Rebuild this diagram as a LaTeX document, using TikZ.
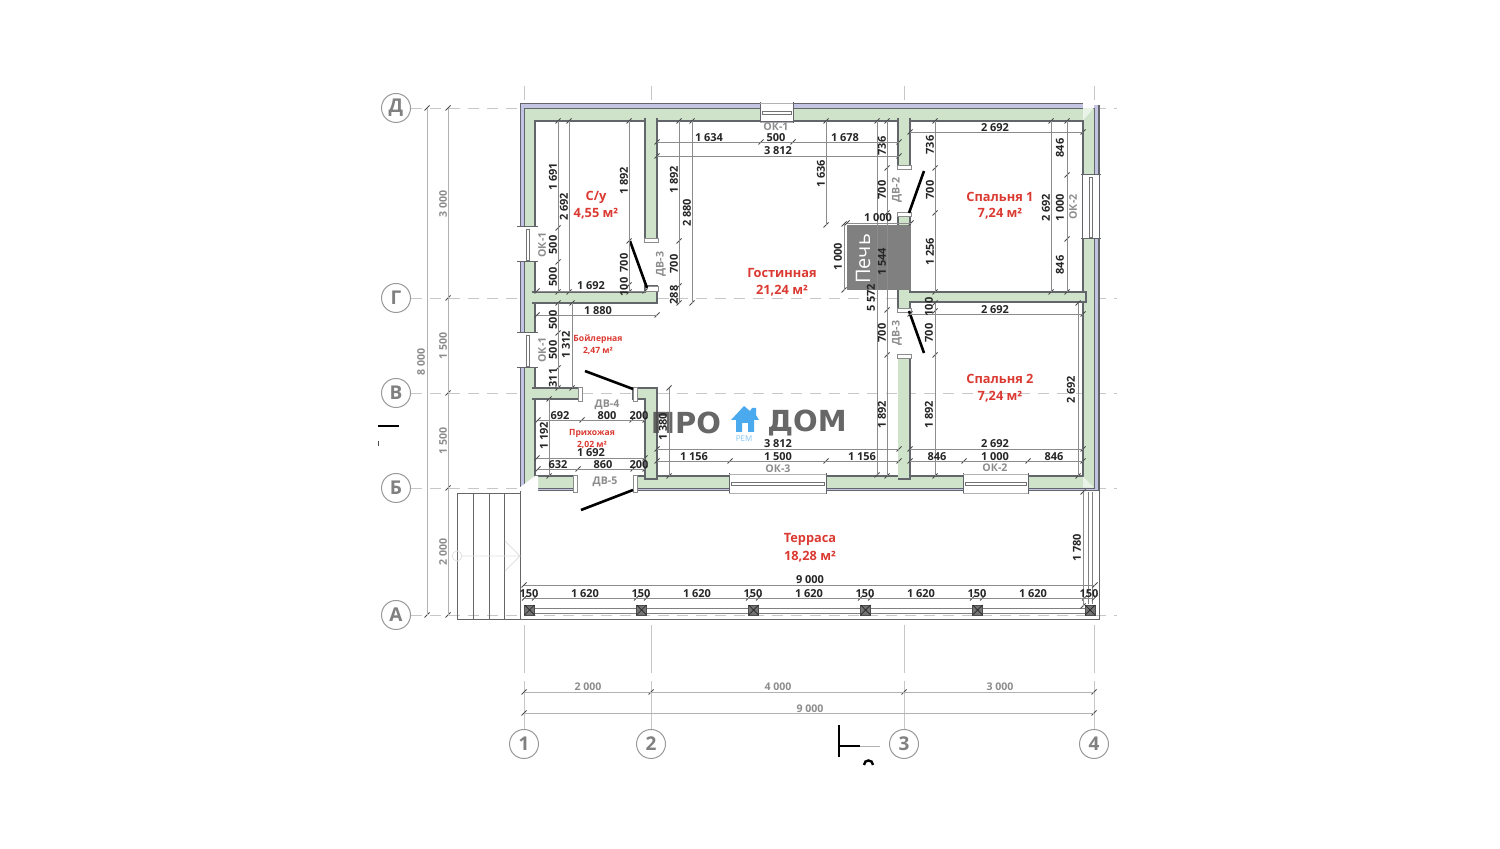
\documentclass[tikz,border=0pt]{standalone}
\usepackage{fontspec}
\setmainfont{Open Sans}
\newfontfamily\markfont{DejaVu Sans}
\definecolor{wallgreen}{HTML}{CFE3CB}
\definecolor{wallpale}{HTML}{EAF3E8}
\definecolor{wallpurple}{HTML}{C3C3E4}
\definecolor{walldark}{HTML}{62656A}
\definecolor{roomred}{HTML}{DB3A32}
\definecolor{houseblue}{HTML}{4BA9EE}
\tikzset{
dimbase/.style={inner sep=0pt,text=black!85,font=\bfseries\fontsize{5.5}{6}\selectfont},
dimlab/.style={dimbase,yshift=-.5pt},
dimlabv/.style={dimbase,rotate=90},
graybase/.style={inner sep=0pt,text=black!45,font=\bfseries\fontsize{5.3}{6}\selectfont},
graylab/.style={graybase,yshift=-.5pt},
graylabv/.style={graybase,rotate=90},
roomlab/.style={inner sep=0pt,yshift=-.5pt,text=roomred,font=\bfseries\fontsize{6.4}{7}\selectfont},
smalllab/.style={inner sep=0pt,yshift=-.5pt,text=roomred,font=\bfseries\fontsize{4.3}{5}\selectfont},
axisnode/.style={circle,draw=black!40,line width=.5pt,minimum size=14.5pt,inner sep=0pt,fill=white,text=black!50,font=\bfseries\fontsize{9.5}{10}\selectfont},
gridline/.style={draw=black!22,line width=.4pt,dash pattern=on 5.5pt off 4pt},
gridup/.style={draw=black!22,line width=.4pt,dash pattern=on 24pt off 4pt},
dimline/.style={draw=black!45,line width=.3pt},
dimlight/.style={draw=black!30,line width=.35pt},
tickline/.style={draw=black!70,line width=.4pt},
iwall/.style={fill=wallgreen,draw=walldark,line width=.55pt},
jamb/.style={fill=white,draw=black!45,line width=.3pt},
leaf/.style={draw=black,line width=1.3pt},
stair/.style={draw=black!60,line width=.45pt},
winline/.style={draw=black!30,line width=.35pt},
glass/.style={draw=black!55,line width=.35pt,fill=white},
markword/.style={inner sep=0pt,text=black!70,opacity=.85,font=\markfont\bfseries\fontsize{14.5}{16}\selectfont},
}
\newcommand{\hchain}[3][dimline]{\foreach \x [count=\i] in {#3}{\draw[tickline] (\x-2.5,#2+2.5) -- ++(5,-5);
\ifnum\i=1 \xdef\chfirst{\x}\fi \xdef\chlast{\x}}
\draw[#1] (\chfirst,#2) -- (\chlast,#2);}
\newcommand{\vchain}[3][dimline]{\foreach \y [count=\i] in {#3}{\draw[tickline] (#2-2.5,\y+2.5) -- ++(5,-5);
\ifnum\i=1 \xdef\chfirst{\y}\fi \xdef\chlast{\y}}
\draw[#1] (#2,\chfirst) -- (#2,\chlast);}
\newcommand{\winh}[4]{\fill[white] (#1,#3+1) rectangle (#2,#4-1);
\draw[walldark,line width=.5pt] (#1,#3-1) -- (#1,#4+1) (#2,#3-1) -- (#2,#4+1);
\draw[winline] (#1,#3) -- (#2,#3) (#1,#4) -- (#2,#4);
\draw[glass] (#1+2,{(#3+#4)/2-1.5}) rectangle (#2-2,{(#3+#4)/2+1.5});}
\newcommand{\winv}[4]{\fill[white] (#1+1,#3) rectangle (#2-1,#4);
\draw[walldark,line width=.5pt] (#1-1,#3) -- (#2+1,#3) (#1-1,#4) -- (#2+1,#4);
\draw[glass] ({(#1+#2)/2-1.5},#3+2) rectangle ({(#1+#2)/2+1.5},#4-2);}
\begin{document}
\begin{tikzpicture}[x=.5pt,y=-.5pt]
\useasboundingbox (0,0) rectangle (1500,849);

\foreach \n/\y/\lab in {D/108/Д,G/298/Г,V/393/В,B/488/Б,A/615/А}{
\node[axisnode] (ax\n) at (396,\y) {\raisebox{-.7pt}{\lab}};
\coordinate (ax\n e) at (1117,\y);
\draw[gridline] (ax\n) -- (ax\n e);
}
\foreach \n/\x in {1/524,2/651,3/904,4/1094}{
\node[axisnode] (ax\n) at (\x,744) {\n};
\coordinate (ax\n e) at (\x,620);
\coordinate (ax\n t) at (\x,86);
\coordinate (ax\n b) at (\x,100);
\draw[gridup] (ax\n) -- (ax\n e);
\draw[draw=black!22,line width=.4pt] (ax\n t) -- (ax\n b);
}

\draw[fill=wallpurple,draw=walldark,line width=.5pt,even odd rule] (520,104) rectangle (1099,491) (535,121) rectangle (1083,476);
\fill[wallgreen,even odd rule] (525,108) rectangle (1094,488) (535,121) rectangle (1083,476);
\draw[walldark,line width=.45pt] (524.5,108) -- (524.5,488) -- (1094,488) -- (1094,108) -- (524.5,108);
\fill[white] (1083,103) rectangle (1093.7,107.7);
\fill[white] (1094,103) rectangle (1100,105);
\fill[wallpale] (1083,108) -- (1093.7,108) -- (1083,120.5) -- cycle;
\draw[walldark,line width=.55pt] (1083,121) -- (535,121) -- (535,476) -- (1083,476) -- cycle;
\draw[walldark,line width=.5pt] (1098.5,105) -- (1098.5,491);
\fill[white] (519,492) -- (519,488) -- (535,476) -- (538,476) -- (538,492) -- cycle;
\fill[wallpale] (1083,476.5) -- (1093.7,487.7) -- (1083,487.7) -- cycle;
\fill[white] (577,474) rectangle (633,493);

\draw[iwall] (645,118) -- (645,240) -- (657,240) -- (657,118);
\draw[iwall] (532,292) -- (645,292) -- (645,286) -- (657,286) -- (657,303) -- (532,303);
\draw[iwall] (532,388) -- (582,388) -- (582,399) -- (532,399);
\draw[iwall] (633,388) -- (657,388) -- (657,479) -- (645,479) -- (645,399) -- (633,399) -- cycle;
\draw[iwall] (898,118) -- (898,167) -- (910,167) -- (910,118);
\draw[iwall] (898,213) -- (910,213) -- (910,226) -- (898,226) -- cycle;
\draw[iwall] (898,289) -- (898,310) -- (910,310) -- (910,302) -- (1086,302) -- (1086,292) -- (910,292) -- (910,289);
\draw[iwall] (898,355) -- (910,355) -- (910,479) -- (898,479);
\draw[jamb] (644,238) rectangle (658,242);
\draw[jamb] (645,286) rectangle (658,291);
\draw[jamb] (578,387) rectangle (582,401);
\draw[jamb] (633,387) rectangle (637,401);
\draw[jamb] (573,475) rectangle (577,492);
\draw[jamb] (633,475) rectangle (637,492);
\draw[jamb] (897,165) rectangle (911,169);
\draw[jamb] (897,212) rectangle (911,216);
\draw[jamb] (897,308) rectangle (911,312);
\draw[jamb] (897,354) rectangle (911,358);

\winh{760}{793}{103}{122}
\winh{729}{826}{474}{493}
\winh{963}{1028}{474}{493}
\winv{518}{537}{227}{262}
\winv{518}{537}{333}{368}
\winv{1082}{1100}{175}{239}

\fill[black!50] (847,225) rectangle (911,290);

\draw[leaf] (630,241) -- (647,288);
\draw[leaf] (924,171) -- (909,213);
\draw[leaf] (909,311) -- (924,353);
\draw[leaf] (585,371) -- (633,389);
\draw[leaf] (581,510) -- (633,490);
\draw[leaf] (378,426) -- (399,426);
\draw[black!70,line width=.5pt] (378,441) -- (378,446);
\draw[black,line width=1pt] (839,725) -- (839,757);
\draw[black,line width=.9pt] (839,746) -- (860,746);
\draw[black!30,line width=.4pt] (860,746) -- (880,746);
\draw[black,line width=1.2pt] (864,765) .. controls (864,759) and (873,759) .. (873,765);

\draw[stair] (520,491) -- (520,619) -- (1099,619) -- (1099,491);
\draw[stair] (520,493) -- (457,493) -- (457,619) -- (520,619);
\foreach \x in {473,489,504}{\draw[stair] (\x,493) -- (\x,619);}
\draw[black!12,line width=.4pt] (462,556) -- (520,556) (505,541) -- (520,556) -- (505,571);
\draw[black!12,line width=.4pt] (457,556) circle (5);
\draw[winline,draw=black!50] (534,608) -- (1085,608) (534,613) -- (1085,613);
\draw[winline,draw=black!50] (1088,492) -- (1088,604) (1092,492) -- (1092,604);
\foreach \x in {529.5,641.5,753.5,865.5,977.5,1090}{
\draw[fill=black!55,draw=black!70,line width=.4pt] (\x-5,605) rectangle (\x+5,615);
\draw[black!85,line width=.35pt] (\x-5,605) -- (\x+5,615) (\x-5,615) -- (\x+5,605);
}

\node[markword] (markpro) at (686,423) {ПРО};
\node[markword] (markdom) at (807,423) {ДОМ};
\fill[houseblue] (744,406) -- (750,411) -- (752,408) -- (756,408) -- (756,415) -- (759,420) -- (754,420) -- (754,432) -- (748,432) -- (748,423) -- (742,423) -- (742,432) -- (736,432) -- (736,420) -- (731,420) -- cycle;
\node[inner sep=0pt,text=houseblue!70,font=\fontsize{4}{5}\selectfont] (markrem) at (744,439) {РЕМ};

\vchain[dimlight]{448}{108,298,393,488,615}
\vchain[dimlight]{427}{108,615}
\hchain[dimlight]{692}{524,651,904,1094}
\hchain[dimlight]{713}{524,1094}

\vchain{558}{121,228,262,292}
\vchain{569}{121,292}
\vchain{629}{121,241,285,292}
\hchain{291}{537,645}
\hchain{142}{657,761,793,899}
\hchain{156}{657,899}
\vchain{679}{121,241,286,303}
\vchain{692}{121,303}
\vchain{826}{121,225}
\vchain{877}{121,475}
\vchain{887}{121,168,213,310,355,476}
\hchain{223}{847,911}
\vchain{844}{224,290}
\vchain{935}{121,168,213,292}
\vchain{935}{303,311,355,476}
\hchain{132}{910,1083}
\vchain{1051}{121,292}
\vchain{1067}{121,175,239,292}
\hchain{314}{910,1083}
\vchain{1078}{303,476}
\hchain{449}{910,1083}
\hchain{461}{910,964,1028,1083}
\hchain{449}{657,899}
\hchain{461}{657,730,826,899}
\vchain{669}{388,476}
\hchain{315}{537,657}
\vchain{558}{303,333,368,388}
\vchain{572}{303,388}
\hchain{420}{538,582,632,645}
\vchain{549}{399,476}
\hchain{458}{537,645}
\hchain{469}{538,578,633,645}
\hchain{585}{524,1095}
\hchain{598}{524.5,534.5,636.5,646.5,748.5,758.5,860.5,870.5,972.5,982.5,1084.5,1094.5}
\vchain{1083}{492,606}

\foreach \x/\y/\lab [count=\i] in {591/285/1 692,709/137/1 634,776/137/500,845/137/1 678,778/150/3 812,878/217/1 000,
995/127/2 692,995/309/2 692,995/443/2 692,937/456/846,995/456/1 000,1054/456/846,778/443/3 812,694/456/1 156,778/456/1 500,862/456/1 156,
598/310/1 880,560/415/692,607/415/800,639/415/200,591/452/1 692,558/464/632,603/464/860,639/464/200,
810/579/9 000,529/593/150,585/593/1 620,641/593/150,697/593/1 620,753/593/150,809/593/1 620,865/593/150,921/593/1 620,977/593/150,1033/593/1 620,1089/593/150}
\node[dimlab] (dh\i) at (\x,\y) {\lab};

\foreach \x/\y/\lab [count=\i] in {553/177/1 691,553/245/500,553/277/500,564/207/2 692,624/181/1 892,624/263/700,624/287/100,
674/180/1 892,674/264/700,674/295/288,687/213/2 880,821/174/1 636,871/298/5 572,882/146/736,882/190/700,882/262/1 544,882/333/700,882/415/1 892,838/257/1 000,
930/145/736,930/190/700,930/252/1 256,929/307/100,929/333/700,929/415/1 892,1046/208/2 692,1060/148/846,1060/208/1 000,1060/265/846,1071/390/2 692,
663/427/1 380,553/320/500,553/350/500,553/378/311,566/345/1 312,544/436/1 192,1077/548/1 780}
\node[dimlabv] (dv\i) at (\x,\y) {\lab};

\foreach \x/\y/\lab [count=\i] in {776/126/ОК-1,607/404/ДВ-4,605/481/ДВ-5,778/468/ОК-3,995/467/ОК-2,588/686/2 000,778/686/4 000,1000/686/3 000,810/708/9 000}
\node[graylab] (gh\i) at (\x,\y) {\lab};
\foreach \x/\y/\lab [count=\i] in {542/245/ОК-1,542/350/ОК-1,661/264/ДВ-3,897/190/ДВ-2,897/333/ДВ-3,1073/207/ОК-2,443/204/3 000,443/346/1 500,443/441/1 500,443/552/2 000,421/362/8 000}
\node[graylabv] (gv\i) at (\x,\y) {\lab};

\foreach \x/\y/\lab [count=\i] in {596/196/{С/у},596/213/{4,55 м²},782/272/Гостинная,782/290/{21,24 м²},1000/196/Спальня 1,1000/213/{7,24 м²},1000/378/Спальня 2,1000/396/{7,24 м²},810/538/Терраса,810/556/{18,28 м²}}
\node[roomlab] (room\i) at (\x,\y) {\lab};
\foreach \x/\y/\lab [count=\i] in {598/338/Бойлерная,598/350/{2,47 м²},592/432/Прихожая,592/444/{2,02 м²}}
\node[smalllab] (small\i) at (\x,\y) {\lab};

\node[inner sep=0pt,text=white,rotate=90,font=\fontsize{10}{12}\selectfont] (pech) at (863,259) {Печь};
\end{tikzpicture}
\end{document}
